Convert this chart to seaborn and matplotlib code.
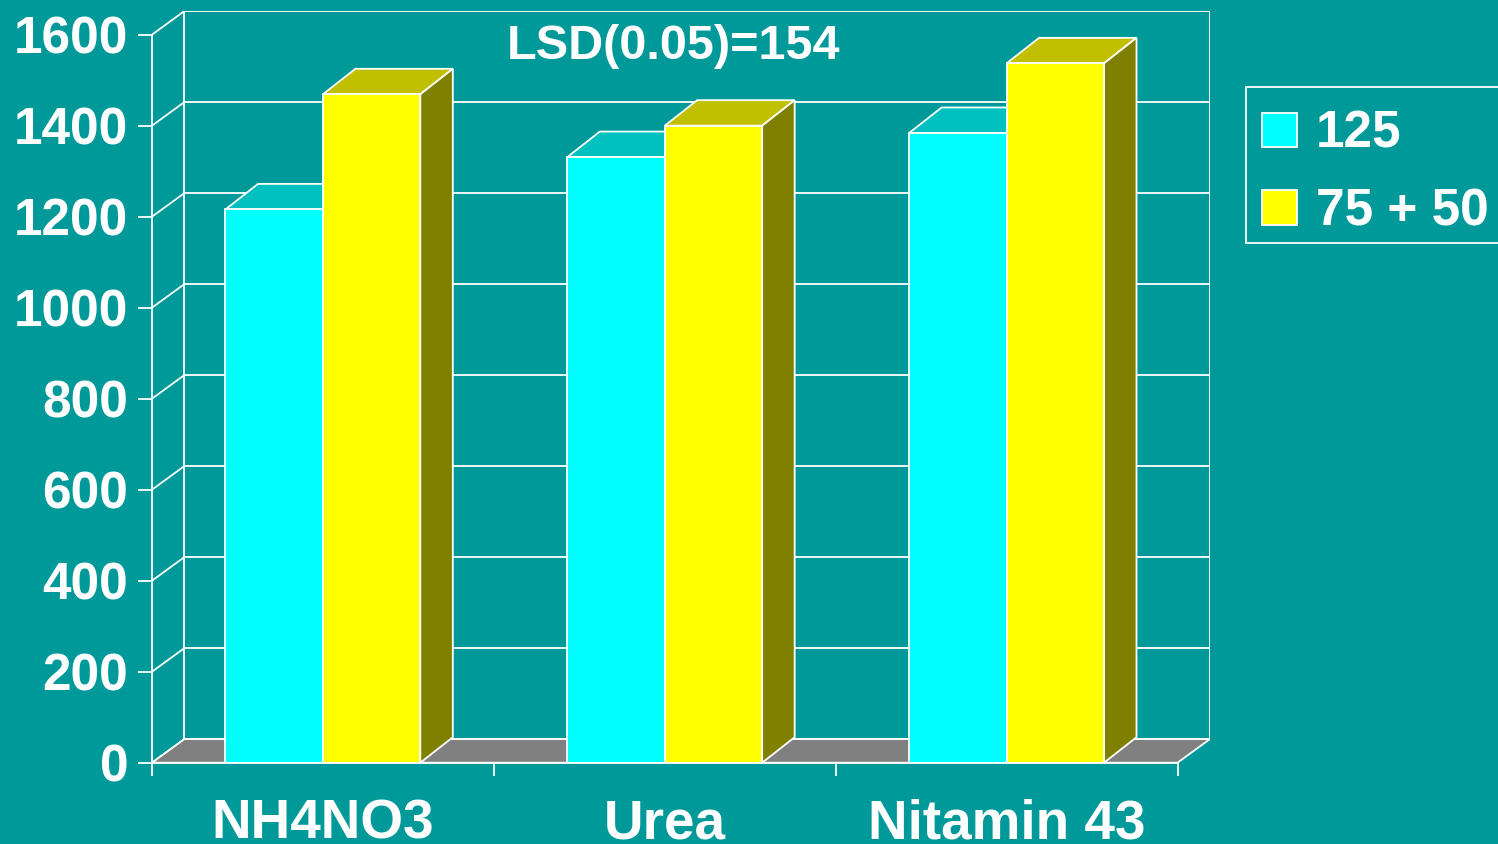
import numpy as np
import pandas as pd
import seaborn as sns
import matplotlib.pyplot as plt
from matplotlib.patches import Polygon, Patch, Rectangle

# data
fertilizers = ["NH4NO3", "Urea", "Nitamin 43"]
rates = ["125", "75 + 50"]
yield_125 = [1216, 1331, 1384]
yield_split = [1469, 1400, 1537]
y_ticks = [0, 200, 400, 600, 800, 1000, 1200, 1400, 1600]
lsd_label = "LSD(0.05)=154"

# colours
BG = "#009999"
front_colors = ["#00FFFF", "#FFFF00"]
top_colors = ["#00C0C0", "#C0C000"]
side_colors = ["#008080", "#808000"]
FLOOR = "#808080"

# fake 3D depth (data units)
DX = 0.095
WALL_DY = 52
BAR_DY = 56
LW = 1.3

df = pd.DataFrame(
    {
        "Fertilizer": fertilizers * 2,
        "Rate": [rates[0]] * len(fertilizers) + [rates[1]] * len(fertilizers),
        "Yield": yield_125 + yield_split,
    }
)

sns.set_theme(style="ticks")
plt.rcParams["font.family"] = ["Liberation Sans", "DejaVu Sans"]
plt.rcParams["font.weight"] = "bold"

fig = plt.figure(figsize=(14.98, 8.44), dpi=100, facecolor=BG)
ax = fig.add_axes([152 / 1498, (844 - 762.7) / 844, (1210 - 152) / 1498, (762.7 - 11) / 844])
ax.set_facecolor(BG)

sns.barplot(
    data=df,
    x="Fertilizer",
    y="Yield",
    hue="Rate",
    palette=front_colors,
    saturation=1,
    width=0.57,
    errorbar=None,
    edgecolor="white",
    linewidth=LW,
    legend=False,
    ax=ax,
    zorder=3,
)

ax.set_xlim(-0.5, 2.5 + DX)
ax.set_ylim(0, 1600 + WALL_DY)

x0, x1 = -0.5, 2.5

# back wall gridlines and left wall diagonals
for y in y_ticks:
    ax.plot([x0 + DX, x1 + DX], [y + WALL_DY, y + WALL_DY], color="white", lw=LW, zorder=0.5)
    ax.plot([x0, x0 + DX], [y, y + WALL_DY], color="white", lw=LW, zorder=0.5)
for xv in [x0 + DX, x1 + DX]:
    ax.plot([xv, xv], [WALL_DY, 1600 + WALL_DY], color="white", lw=LW, zorder=0.5)

# floor
ax.add_patch(
    Polygon(
        [(x0, 0), (x1, 0), (x1 + DX, WALL_DY), (x0 + DX, WALL_DY)],
        closed=True, facecolor=FLOOR, edgecolor="white", lw=LW, zorder=1,
    )
)

# top and side faces for every bar
n = len(fertilizers)
for i, bar in enumerate(ax.patches[:2 * n]):
    k = i // n
    bx, bw, bh = bar.get_x(), bar.get_width(), bar.get_height()
    top = [(bx, bh), (bx + DX, bh + BAR_DY), (bx + bw + DX, bh + BAR_DY), (bx + bw, bh)]
    side = [(bx + bw, 0), (bx + bw, bh), (bx + bw + DX, bh + BAR_DY), (bx + bw + DX, BAR_DY)]
    ax.add_patch(Polygon(top, closed=True, facecolor=top_colors[k], edgecolor="white", lw=LW, zorder=2))
    ax.add_patch(Polygon(side, closed=True, facecolor=side_colors[k], edgecolor="white", lw=LW, zorder=2))

# axes styling
for s in ["top", "right"]:
    ax.spines[s].set_visible(False)
for s in ["left", "bottom"]:
    ax.spines[s].set_color("white")
    ax.spines[s].set_linewidth(LW)
ax.spines["left"].set_bounds(0, 1600)
ax.spines["bottom"].set_bounds(x0, x1)
ax.spines["bottom"].set_zorder(4)

ax.set_yticks(y_ticks)
ax.set_yticklabels([str(t) for t in y_ticks], color="white", fontsize=37, fontweight="bold")
ax.tick_params(axis="y", length=10, width=LW, color="white", pad=7)

ax.set_xticks([0, 1, 2])
ax.set_xticklabels(fertilizers, color="white", fontsize=39.5, fontweight="bold")
ax.tick_params(axis="x", which="major", length=0, pad=26)
ax.set_xticks([x0, 0.5, 1.5, x1], minor=True)
ax.tick_params(axis="x", which="minor", length=9, width=LW, color="white", direction="out")
ax.set_xlabel("")
ax.set_ylabel("")

ax.text(1.025, 1575, lsd_label, color="white", fontsize=35, fontweight="bold",
        ha="center", va="center", zorder=5)

# legend frame (runs off the right edge as in the original)
fig.patches.append(
    Rectangle((1246 / 1498, 1 - 243 / 844), 300 / 1498, 156 / 844,
              transform=fig.transFigure, facecolor=BG, edgecolor="white", lw=LW)
)
handles = [Patch(facecolor=c, edgecolor="white", lw=LW) for c in front_colors]
leg = fig.legend(
    handles, rates,
    loc="upper left",
    bbox_to_anchor=(1262 / 1498, 1 - 110 / 844),
    frameon=False,
    prop={"size": 37, "weight": "bold"},
    handlelength=0.68, handleheight=0.66, handletextpad=0.37,
    borderpad=0, labelspacing=0.56, borderaxespad=0,
)
for t in leg.get_texts():
    t.set_color("white")

fig.savefig("out.png", dpi=100, facecolor=BG)
